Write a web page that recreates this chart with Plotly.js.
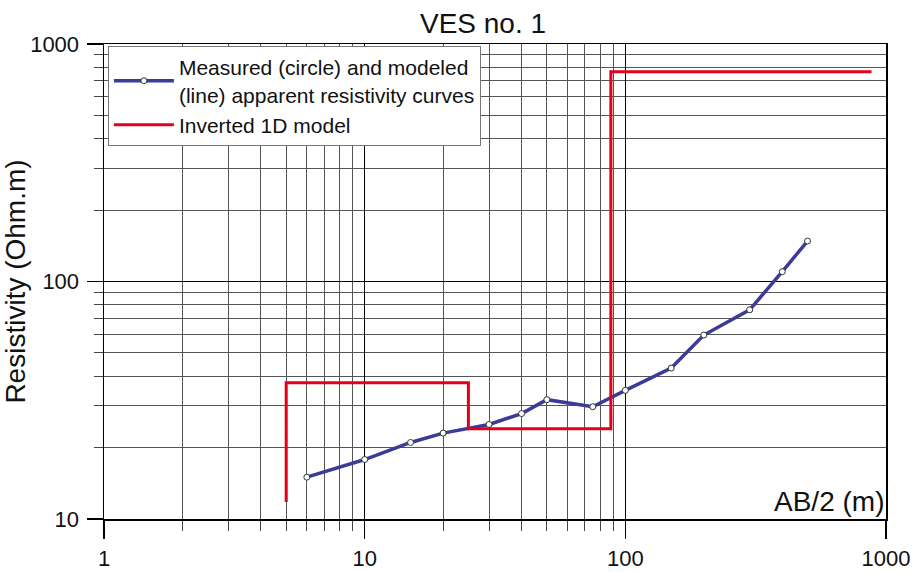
<!DOCTYPE html>
<html>
<head>
<meta charset="utf-8">
<script src="https://cdn.plot.ly/plotly-3.0.1.min.js"></script>
<style>html,body{margin:0;padding:0;background:#fff;}#chart{width:914px;height:572px;}</style>
</head>
<body>
<div id="chart"></div>
<script>
// Measured / modeled apparent resistivity
const abHalf = [6, 10, 15, 20, 30, 40, 50, 75, 100, 150, 200, 300, 400, 500];
const rhoApparent = [15, 17.8, 21, 23, 25, 27.8, 31.8, 29.7, 34.8, 43.2, 59.5, 76, 110, 148];
// Inverted 1D model (step)
const modelDepth = [5, 5, 25, 25, 88, 88, 880];
const modelRho = [11.8, 37.5, 37.5, 24, 24, 765, 765];
// Tick labels
const xTickVals = [1, 10, 100, 1000];
const xTickText = ['1', '10', '100', '1000'];
const xMinorVals = [2,3,4,5,6,7,8,9,20,30,40,50,60,70,80,90];
const yTickVals = [10, 100, 1000];
const yTickText = ['10', '100', '1000'];
const yMinorVals = [20,30,40,50,60,70,80,90,200,300,400,500,600,700,800,900];

const FONT = 'Liberation Sans, Arial, sans-serif';

const traces = [
  {
    x: abHalf, y: rhoApparent, type: 'scatter', mode: 'lines+markers',
    name: 'Measured (circle) and modeled<br>(line) apparent resistivity curves',
    line: {color: '#3b3b98', width: 3.5},
    marker: {size: 6, color: '#ffffff', line: {color: '#333333', width: 1}}
  },
  {
    x: modelDepth, y: modelRho, type: 'scatter', mode: 'lines',
    name: 'Inverted 1D model',
    line: {color: '#e2001a', width: 3}
  }
];

const layout = {
  width: 914, height: 572,
  margin: {l: 104, r: 28, t: 44, b: 53},
  paper_bgcolor: '#fff', plot_bgcolor: '#fff',
  font: {family: FONT, color: '#111', size: 22},
  title: {text: 'VES no. 1', x: 483/914, xref: 'container', xanchor: 'center', y: 0.96, yanchor: 'middle', font: {size: 28, family: FONT, color: '#111'}},
  showlegend: true,
  legend: {
    x: 0.005, y: 0.996, xanchor: 'left', yanchor: 'top',
    bgcolor: '#fff', bordercolor: '#777', borderwidth: 1,
    font: {size: 21, family: FONT, color: '#111'},
    itemwidth: 60, tracegroupgap: 0
  },
  xaxis: {
    type: 'log', range: [0, 3],
    tickmode: 'array', tickvals: xTickVals, ticktext: xTickText,
    ticks: 'outside', ticklen: 18, tickwidth: 1.5, tickcolor: '#000',
    ticklabelstandoff: 1,
    showgrid: true, gridcolor: '#000', gridwidth: 1.5,
    showline: true, linecolor: '#000', linewidth: 1.5, mirror: true,
    tickfont: {size: 22, family: FONT, color: '#111'},
    minor: {tickmode: 'array', tickvals: xMinorVals, ticks: 'outside', ticklen: 10, tickwidth: 1, tickcolor: '#444', showgrid: true, gridcolor: '#555', gridwidth: 1},
    zeroline: false
  },
  yaxis: {
    type: 'log', range: [1, 3],
    tickmode: 'array', tickvals: yTickVals, ticktext: yTickText,
    ticks: 'outside', ticklen: 16, tickwidth: 1.5, tickcolor: '#000',
    ticklabelstandoff: 3,
    showgrid: true, gridcolor: '#000', gridwidth: 1.5,
    showline: true, linecolor: '#000', linewidth: 1.5, mirror: true,
    tickfont: {size: 22, family: FONT, color: '#111'},
    title: {text: 'Resistivity (Ohm.m)', font: {size: 28, family: FONT, color: '#111'}, standoff: 2},
    minor: {tickmode: 'array', tickvals: yMinorVals, ticks: 'outside', ticklen: 9, tickwidth: 1, tickcolor: '#444', showgrid: true, gridcolor: '#555', gridwidth: 1},
    zeroline: false
  },
  annotations: [
    {text: 'AB/2 (m)', xref: 'paper', yref: 'paper', x: 1, y: 0, xanchor: 'right', yanchor: 'bottom', showarrow: false, font: {size: 28, family: FONT, color: '#111'}}
  ]
};

Plotly.newPlot('chart', traces, layout, {displayModeBar: false, staticPlot: true});
</script>
</body>
</html>
